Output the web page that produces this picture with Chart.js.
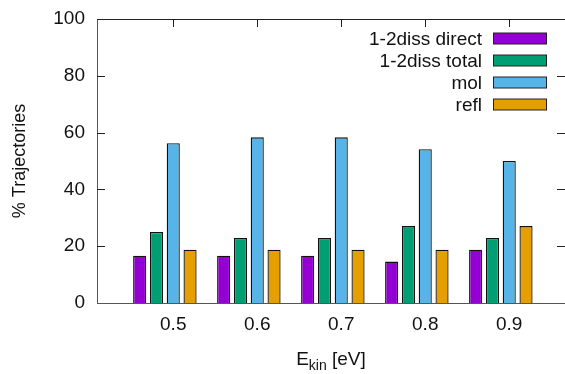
<!DOCTYPE html>
<html>
<head>
<meta charset="utf-8">
<script src="https://cdn.jsdelivr.net/npm/chart.js@4.4.0/dist/chart.umd.min.js"></script>
<style>
  html, body { margin: 0; padding: 0; background: #fff; }
  #wrap { width: 565px; height: 374px; }
</style>
</head>
<body>
<div id="wrap"><canvas id="grafico"></canvas></div>
<script>
// energias cinéticas (eV) e porcentagens de trajetórias (48 trajetórias por energia)
const energias = [0.5, 0.6, 0.7, 0.8, 0.9];
const dissDireta = [16.67, 16.67, 16.67, 14.58, 18.75];
const dissTotal = [25.00, 22.92, 22.92, 27.08, 22.92];
const mol = [56.25, 58.33, 58.33, 54.17, 50.00];
const refl = [18.75, 18.75, 18.75, 18.75, 27.08];
const lacuna = [0, 0, 0, 0, 0]; // espaço vazio entre grupos (como o gap do gnuplot)
const ticksY = [0, 20, 40, 60, 80, 100];

const fonte = 'Liberation Sans, Arial, sans-serif';

function pontos(vals) {
    return energias.map((e, i) => ({ x: e, y: vals[i] }));
}

// moldura, tiques para dentro e espelhados (estilo gnuplot)
const moldura = {
    id: 'moldura',
    beforeDatasetsDraw(chart) {
        const { ctx, chartArea: a, scales } = chart;
        ctx.save();
        ctx.strokeStyle = '#222';
        ctx.lineWidth = 1;
        ctx.beginPath();
        ctx.moveTo(a.left, a.top + 0.5);
        ctx.lineTo(a.right, a.top + 0.5);
        scales.y.ticks.forEach(t => {
            const py = Math.round(scales.y.getPixelForValue(t.value)) + 0.5;
            if (t.value === 0 || t.value === 100) return;
            ctx.moveTo(a.left, py); ctx.lineTo(a.left + 8, py);
            ctx.moveTo(a.right - 8, py); ctx.lineTo(a.right, py);
        });
        scales.x.ticks.forEach(t => {
            const px = Math.round(scales.x.getPixelForValue(t.value)) + 0.5;
            ctx.moveTo(px, a.top); ctx.lineTo(px, a.top + 8);
            ctx.moveTo(px, a.bottom); ctx.lineTo(px, a.bottom - 8);
        });
        ctx.stroke();
        ctx.restore();
    }
};

// legenda dentro da área, texto à esquerda da amostra
const legenda = {
    id: 'legenda',
    afterDraw(chart) {
        const { ctx, chartArea: a } = chart;
        const xs = a.right - 18;
        ctx.save();
        ctx.font = '19px ' + fonte;
        ctx.textAlign = 'right';
        ctx.textBaseline = 'middle';
        let i = 0;
        chart.data.datasets.forEach(ds => {
            if (!ds.label) return;
            const y = a.top + 19.5 + 22 * i;
            ctx.fillStyle = '#111';
            ctx.fillText(ds.label, xs - 65, y + 1);
            ctx.fillStyle = ds.backgroundColor;
            ctx.fillRect(xs - 53.5, y - 5.5, 53, 11);
            ctx.strokeStyle = '#222';
            ctx.lineWidth = 1;
            ctx.strokeRect(xs - 53.5, y - 5.5, 53, 11);
            i++;
        });
        ctx.restore();
    }
};

// título do eixo x com subscrito
const tituloX = {
    id: 'tituloX',
    afterDraw(chart) {
        const { ctx, chartArea: a } = chart;
        const partes = [['E', 19, 0], ['kin', 14, 5], [' [eV]', 19, 0]];
        ctx.save();
        ctx.fillStyle = '#111';
        ctx.textBaseline = 'alphabetic';
        let larg = 0;
        partes.forEach(p => { ctx.font = p[1] + 'px ' + fonte; larg += ctx.measureText(p[0]).width; });
        let x = (a.left + a.right) / 2 - larg / 2;
        const base = 365;
        partes.forEach(p => {
            ctx.font = p[1] + 'px ' + fonte;
            ctx.fillText(p[0], x, base + p[2]);
            x += ctx.measureText(p[0]).width;
        });
        ctx.restore();
    }
};

const ctx = document.getElementById('grafico').getContext('2d');
const grafico = new Chart(ctx, {
    type: 'bar',
    data: {
        datasets: [
            { label: '1-2diss direct', data: pontos(dissDireta), backgroundColor: '#9400d3' },
            { label: '1-2diss total', data: pontos(dissTotal), backgroundColor: '#009e73' },
            { label: 'mol', data: pontos(mol), backgroundColor: '#56b4e9' },
            { label: 'refl', data: pontos(refl), backgroundColor: '#e69f00' },
            { label: '', data: pontos(lacuna), backgroundColor: 'rgba(0,0,0,0)', borderWidth: 0 }
        ]
    },
    options: {
        responsive: true,
        maintainAspectRatio: false,
        animation: false,
        layout: { padding: { top: 19, right: 0, left: 0, bottom: 0 } },
        datasets: {
            bar: {
                borderColor: '#111',
                borderWidth: 1.3,
                barPercentage: 0.78,
                categoryPercentage: 1
            }
        },
        scales: {
            x: {
                type: 'linear',
                offset: false,
                min: 0.4092,
                max: 0.9664,
                afterBuildTicks: s => { s.ticks = energias.map(v => ({ value: v })); },
                afterFit: s => { s.height = 71; s.paddingLeft = 0; s.paddingRight = 0; },
                grid: { display: false, drawTicks: false },
                border: { display: true, color: '#555', width: 1 },
                ticks: {
                    autoSkip: false,
                    maxRotation: 0,
                    padding: 10,
                    color: '#111',
                    font: { family: fonte, size: 19 },
                    callback: v => v.toFixed(1)
                }
            },
            y: {
                min: 0,
                max: 100,
                afterBuildTicks: s => { s.ticks = ticksY.map(v => ({ value: v })); },
                afterFit: s => { s.width = 97; s.paddingTop = 0; s.paddingBottom = 0; },
                grid: { display: false, drawTicks: false },
                border: { display: true, color: '#555', width: 1 },
                ticks: {
                    padding: 12,
                    color: '#111',
                    font: { family: fonte, size: 19 }
                },
                title: {
                    display: true,
                    text: '% Trajectories',
                    color: '#111',
                    font: { family: fonte, size: 18 },
                    padding: { top: 9, bottom: 0 }
                }
            }
        },
        plugins: {
            legend: { display: false },
            tooltip: { enabled: false },
            title: { display: false }
        }
    },
    plugins: [moldura, legenda, tituloX]
});
</script>
</body>
</html>
